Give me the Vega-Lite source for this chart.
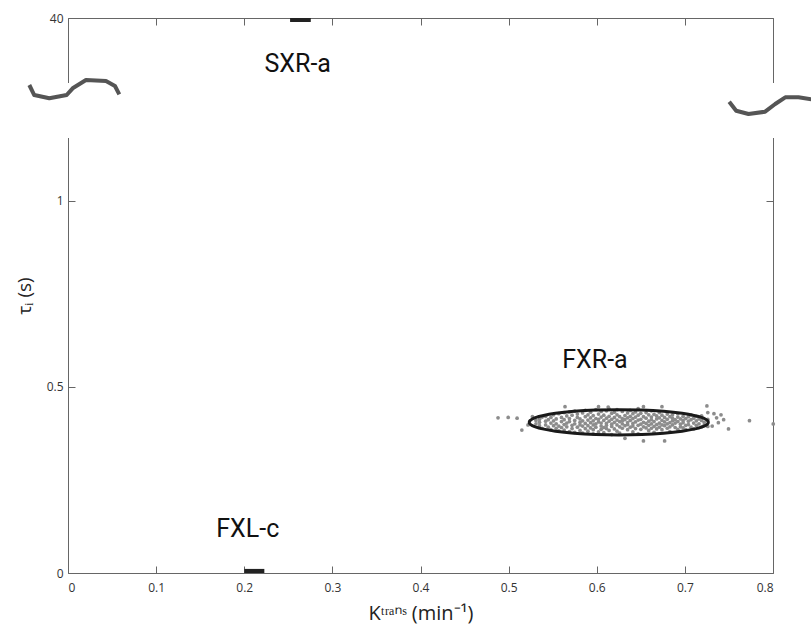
{
  "$schema": "https://vega.github.io/schema/vega-lite/v6.json",
  "width": 705,
  "height": 555,
  "autosize": {"type": "none"},
  "padding": {"left": 68, "top": 18, "right": 38, "bottom": 68},
  "background": "white",
  "config": {"view": {"stroke": null}, "font": "Open Sans"},
  "datasets": {
    "gap": [{"k": -0.06, "k2": 0.9, "t": 1.169, "t2": 18.97}],
    "sq": [
      {"g": "L", "o": 1, "k": -0.0439, "t": 18.32},
      {"g": "L", "o": 2, "k": -0.0383, "t": 15.08},
      {"g": "L", "o": 3, "k": -0.0212, "t": 14.02},
      {"g": "L", "o": 4, "k": -0.0015, "t": 15.08},
      {"g": "L", "o": 5, "k": 0.0053, "t": 17.25},
      {"g": "L", "o": 6, "k": 0.0204, "t": 19.94},
      {"g": "L", "o": 7, "k": 0.0431, "t": 19.61},
      {"g": "L", "o": 8, "k": 0.0533, "t": 18.0},
      {"g": "L", "o": 9, "k": 0.0582, "t": 15.31},
      {"g": "R", "o": 1, "k": 0.7503, "t": 12.92},
      {"g": "R", "o": 2, "k": 0.7582, "t": 10.0},
      {"g": "R", "o": 3, "k": 0.7722, "t": 8.94},
      {"g": "R", "o": 4, "k": 0.7911, "t": 9.68},
      {"g": "R", "o": 5, "k": 0.8025, "t": 12.17},
      {"g": "R", "o": 6, "k": 0.8139, "t": 14.34},
      {"g": "R", "o": 7, "k": 0.8289, "t": 14.34},
      {"g": "R", "o": 8, "k": 0.8434, "t": 13.69}
    ],
    "bars": [
      {"k": 0.252, "k2": 0.2755, "t": 40, "t2": 38.71},
      {"k": 0.2001, "k2": 0.2228, "t": 0, "t2": 0.011}
    ],
    "lbl": [
      {"k": 0.2607, "t": 25.21, "s": "SXR-a"},
      {"k": 0.598, "t": 0.572, "s": "FXR-a"},
      {"k": 0.204, "t": 0.118, "s": "FXL-c"}
    ],
    "ell": [
      {"o": 0, "k": 0.7266, "t": 0.405},
      {"o": 1, "k": 0.72573, "t": 0.40944},
      {"o": 2, "k": 0.72314, "t": 0.4138},
      {"o": 3, "k": 0.71887, "t": 0.41801},
      {"o": 4, "k": 0.71299, "t": 0.422},
      {"o": 5, "k": 0.69684, "t": 0.42904},
      {"o": 6, "k": 0.6758, "t": 0.43444},
      {"o": 7, "k": 0.65129, "t": 0.43784},
      {"o": 8, "k": 0.625, "t": 0.439},
      {"o": 9, "k": 0.59871, "t": 0.43784},
      {"o": 10, "k": 0.5742, "t": 0.43444},
      {"o": 11, "k": 0.55316, "t": 0.42904},
      {"o": 12, "k": 0.53701, "t": 0.422},
      {"o": 13, "k": 0.53113, "t": 0.41801},
      {"o": 14, "k": 0.52686, "t": 0.4138},
      {"o": 15, "k": 0.52427, "t": 0.40944},
      {"o": 16, "k": 0.5234, "t": 0.405},
      {"o": 17, "k": 0.52427, "t": 0.40056},
      {"o": 18, "k": 0.52686, "t": 0.3962},
      {"o": 19, "k": 0.53113, "t": 0.39199},
      {"o": 20, "k": 0.53701, "t": 0.388},
      {"o": 21, "k": 0.55316, "t": 0.38096},
      {"o": 22, "k": 0.5742, "t": 0.37556},
      {"o": 23, "k": 0.59871, "t": 0.37216},
      {"o": 24, "k": 0.625, "t": 0.371},
      {"o": 25, "k": 0.65129, "t": 0.37216},
      {"o": 26, "k": 0.6758, "t": 0.37556},
      {"o": 27, "k": 0.69684, "t": 0.38096},
      {"o": 28, "k": 0.71299, "t": 0.388},
      {"o": 29, "k": 0.71887, "t": 0.39199},
      {"o": 30, "k": 0.72314, "t": 0.3962},
      {"o": 31, "k": 0.72573, "t": 0.40056}
    ],
    "pts": [
      {"k":0.488,"t":0.417},{"k":0.4995,"t":0.418},{"k":0.5096,"t":0.416},{"k":0.515,"t":0.384},{"k":0.522,"t":0.398},{"k":0.527,"t":0.42},
      {"k":0.725,"t":0.449},{"k":0.733,"t":0.428},{"k":0.741,"t":0.425},{"k":0.7495,"t":0.387},{"k":0.7733,"t":0.4094},{"k":0.8003,"t":0.4005},
      {"k":0.738,"t":0.404},{"k":0.744,"t":0.412},{"k":0.731,"t":0.395},{"k":0.736,"t":0.417},{"k":0.564,"t":0.447},{"k":0.613,"t":0.446},
      {"k":0.531,"t":0.401},{"k":0.531,"t":0.41},
      {"k":0.535,"t":0.396},{"k":0.535,"t":0.413},{"k":0.535,"t":0.405},
      {"k":0.538,"t":0.389},{"k":0.538,"t":0.419},
      {"k":0.542,"t":0.408},{"k":0.542,"t":0.398},{"k":0.542,"t":0.421},
      {"k":0.545,"t":0.392},{"k":0.545,"t":0.412},
      {"k":0.548,"t":0.403},{"k":0.548,"t":0.385},{"k":0.548,"t":0.418},
      {"k":0.551,"t":0.425},{"k":0.551,"t":0.396},{"k":0.551,"t":0.409},
      {"k":0.554,"t":0.389},{"k":0.554,"t":0.414},{"k":0.554,"t":0.401},
      {"k":0.557,"t":0.428},{"k":0.557,"t":0.395},{"k":0.557,"t":0.382},
      {"k":0.56,"t":0.407},{"k":0.56,"t":0.418},{"k":0.56,"t":0.391},
      {"k":0.563,"t":0.399},{"k":0.563,"t":0.431},{"k":0.563,"t":0.384},{"k":0.563,"t":0.412},
      {"k":0.566,"t":0.422},{"k":0.566,"t":0.403},{"k":0.566,"t":0.393},
      {"k":0.569,"t":0.38},{"k":0.569,"t":0.415},{"k":0.569,"t":0.407},{"k":0.569,"t":0.433},
      {"k":0.572,"t":0.397},{"k":0.572,"t":0.424},{"k":0.572,"t":0.388},
      {"k":0.575,"t":0.41},{"k":0.575,"t":0.401},{"k":0.575,"t":0.435},{"k":0.575,"t":0.378},
      {"k":0.578,"t":0.418},{"k":0.578,"t":0.392},{"k":0.578,"t":0.427},
      {"k":0.581,"t":0.405},{"k":0.581,"t":0.383},{"k":0.581,"t":0.414},{"k":0.581,"t":0.398},
      {"k":0.584,"t":0.43},{"k":0.584,"t":0.395},{"k":0.584,"t":0.409},{"k":0.584,"t":0.376},
      {"k":0.587,"t":0.42},{"k":0.587,"t":0.402},{"k":0.587,"t":0.388},{"k":0.587,"t":0.437},
      {"k":0.59,"t":0.411},{"k":0.59,"t":0.396},{"k":0.59,"t":0.425},{"k":0.59,"t":0.381},
      {"k":0.593,"t":0.404},{"k":0.593,"t":0.432},{"k":0.593,"t":0.39},{"k":0.593,"t":0.417},
      {"k":0.596,"t":0.385},{"k":0.596,"t":0.409},{"k":0.596,"t":0.423},{"k":0.596,"t":0.398},{"k":0.596,"t":0.374},
      {"k":0.599,"t":0.415},{"k":0.599,"t":0.439},{"k":0.599,"t":0.401},{"k":0.599,"t":0.392},
      {"k":0.602,"t":0.427},{"k":0.602,"t":0.406},{"k":0.602,"t":0.379},{"k":0.602,"t":0.413},{"k":0.602,"t":0.447},
      {"k":0.605,"t":0.395},{"k":0.605,"t":0.419},{"k":0.605,"t":0.386},{"k":0.605,"t":0.434},{"k":0.605,"t":0.403},
      {"k":0.608,"t":0.41},{"k":0.608,"t":0.391},{"k":0.608,"t":0.424},{"k":0.608,"t":0.377},
      {"k":0.611,"t":0.402},{"k":0.611,"t":0.416},{"k":0.611,"t":0.436},{"k":0.611,"t":0.388},{"k":0.611,"t":0.397},
      {"k":0.614,"t":0.421},{"k":0.614,"t":0.383},{"k":0.614,"t":0.408},{"k":0.614,"t":0.441},
      {"k":0.617,"t":0.394},{"k":0.617,"t":0.413},{"k":0.617,"t":0.429},{"k":0.617,"t":0.4},{"k":0.617,"t":0.372},
      {"k":0.62,"t":0.418},{"k":0.62,"t":0.387},{"k":0.62,"t":0.405},{"k":0.62,"t":0.432},
      {"k":0.623,"t":0.398},{"k":0.623,"t":0.425},{"k":0.623,"t":0.411},{"k":0.623,"t":0.381},{"k":0.623,"t":0.439},
      {"k":0.626,"t":0.407},{"k":0.626,"t":0.393},{"k":0.626,"t":0.42},{"k":0.626,"t":0.376},
      {"k":0.629,"t":0.415},{"k":0.629,"t":0.401},{"k":0.629,"t":0.434},{"k":0.629,"t":0.389},{"k":0.629,"t":0.409},
      {"k":0.632,"t":0.396},{"k":0.632,"t":0.423},{"k":0.632,"t":0.362},{"k":0.632,"t":0.412},
      {"k":0.635,"t":0.43},{"k":0.635,"t":0.404},{"k":0.635,"t":0.385},{"k":0.635,"t":0.417},{"k":0.635,"t":0.399},
      {"k":0.638,"t":0.41},{"k":0.638,"t":0.392},{"k":0.638,"t":0.437},{"k":0.638,"t":0.421},
      {"k":0.641,"t":0.402},{"k":0.641,"t":0.379},{"k":0.641,"t":0.415},{"k":0.641,"t":0.428},{"k":0.641,"t":0.395},
      {"k":0.644,"t":0.419},{"k":0.644,"t":0.406},{"k":0.644,"t":0.388},{"k":0.644,"t":0.433},
      {"k":0.647,"t":0.397},{"k":0.647,"t":0.424},{"k":0.647,"t":0.411},{"k":0.647,"t":0.374},{"k":0.647,"t":0.442},
      {"k":0.65,"t":0.413},{"k":0.65,"t":0.4},{"k":0.65,"t":0.386},{"k":0.65,"t":0.429},
      {"k":0.653,"t":0.405},{"k":0.653,"t":0.42},{"k":0.653,"t":0.447},{"k":0.653,"t":0.355},{"k":0.653,"t":0.393},
      {"k":0.656,"t":0.416},{"k":0.656,"t":0.39},{"k":0.656,"t":0.431},{"k":0.656,"t":0.402},
      {"k":0.659,"t":0.408},{"k":0.659,"t":0.425},{"k":0.659,"t":0.383},{"k":0.659,"t":0.397},
      {"k":0.662,"t":0.419},{"k":0.662,"t":0.401},{"k":0.662,"t":0.436},{"k":0.662,"t":0.389},{"k":0.662,"t":0.412},
      {"k":0.665,"t":0.394},{"k":0.665,"t":0.426},{"k":0.665,"t":0.407},{"k":0.665,"t":0.378},
      {"k":0.668,"t":0.414},{"k":0.668,"t":0.399},{"k":0.668,"t":0.422},{"k":0.668,"t":0.387},
      {"k":0.671,"t":0.403},{"k":0.671,"t":0.431},{"k":0.671,"t":0.392},{"k":0.671,"t":0.417},
      {"k":0.674,"t":0.41},{"k":0.674,"t":0.385},{"k":0.674,"t":0.424},{"k":0.674,"t":0.447},{"k":0.674,"t":0.398},
      {"k":0.677,"t":0.396},{"k":0.677,"t":0.418},{"k":0.677,"t":0.406},{"k":0.677,"t":0.355},
      {"k":0.68,"t":0.413},{"k":0.68,"t":0.389},{"k":0.68,"t":0.427},{"k":0.68,"t":0.401},
      {"k":0.683,"t":0.404},{"k":0.683,"t":0.42},{"k":0.683,"t":0.393},{"k":0.683,"t":0.38},
      {"k":0.686,"t":0.416},{"k":0.686,"t":0.398},{"k":0.686,"t":0.425},{"k":0.686,"t":0.409},
      {"k":0.689,"t":0.391},{"k":0.689,"t":0.412},{"k":0.689,"t":0.403},
      {"k":0.692,"t":0.419},{"k":0.692,"t":0.386},{"k":0.692,"t":0.407},{"k":0.692,"t":0.428},
      {"k":0.695,"t":0.4},{"k":0.695,"t":0.414},{"k":0.695,"t":0.393},
      {"k":0.698,"t":0.41},{"k":0.698,"t":0.421},{"k":0.698,"t":0.39},{"k":0.698,"t":0.404},
      {"k":0.701,"t":0.397},{"k":0.701,"t":0.415},{"k":0.701,"t":0.385},
      {"k":0.704,"t":0.408},{"k":0.704,"t":0.42},{"k":0.704,"t":0.399},
      {"k":0.707,"t":0.392},{"k":0.707,"t":0.412},{"k":0.707,"t":0.425},
      {"k":0.71,"t":0.403},{"k":0.71,"t":0.416},{"k":0.71,"t":0.387},
      {"k":0.713,"t":0.409},{"k":0.713,"t":0.397},{"k":0.713,"t":0.421},
      {"k":0.716,"t":0.401},{"k":0.716,"t":0.414},
      {"k":0.719,"t":0.393},{"k":0.719,"t":0.41},{"k":0.719,"t":0.422},
      {"k":0.722,"t":0.405},{"k":0.722,"t":0.398},
      {"k":0.726,"t":0.413},{"k":0.726,"t":0.394},{"k":0.726,"t":0.431}
    ]
  },
  "layer": [
    {
      "data": {"name": "gap"},
      "mark": {"type": "rect", "color": "white"},
      "encoding": {
        "x": {"field": "k", "type": "quantitative",
              "scale": {"domain": [0, 0.8], "nice": false, "zero": false},
              "axis": {"orient": "top", "values": [0, 0.1, 0.2, 0.3, 0.4, 0.5, 0.6, 0.7, 0.8], "labels": false, "title": null,
                       "tickSize": -7, "domainColor": "#666", "tickColor": "#666", "grid": false}},
        "x2": {"field": "k2"},
        "y": {"field": "t", "type": "quantitative",
              "scale": {"domain": [0, 1.169, 40], "range": [555, 120, 0], "nice": false, "zero": false},
              "axis": {"orient": "right", "values": [0, 0.5, 1, 40], "labels": false, "title": null,
                       "tickSize": -7, "domainColor": "#666", "tickColor": "#666", "grid": false}},
        "y2": {"field": "t2"}
      }
    },
    {
      "data": {"name": "pts"},
      "mark": {"type": "circle", "size": 14, "color": "#8c8c8c", "opacity": 1},
      "encoding": {
        "x": {"field": "k", "type": "quantitative",
              "scale": {"domain": [0, 0.8], "nice": false, "zero": false},
              "axis": {"orient": "bottom", "values": [0, 0.1, 0.2, 0.3, 0.4, 0.5, 0.6, 0.7, 0.8], "format": "~r",
                       "tickSize": -7, "labelPadding": 16, "labelFontSize": 12, "labelColor": "#333333", "labelFont": "Open Sans",
                       "domainColor": "#666", "tickColor": "#666", "grid": false,
                       "title": "Kᵗʳᵃⁿˢ (min⁻¹)", "titleFontSize": 20, "titleFontWeight": "normal", "titleColor": "#222",
                       "titleFont": "Open Sans", "titlePadding": 10}},
        "y": {"field": "t", "type": "quantitative",
              "scale": {"domain": [0, 1.169, 40], "range": [555, 120, 0], "nice": false, "zero": false},
              "axis": {"orient": "left", "values": [0, 0.5, 1, 40], "format": "~r",
                       "tickSize": -7, "labelPadding": 12, "labelFontSize": 12, "labelColor": "#333333", "labelFont": "Open Sans",
                       "domainColor": "#666", "tickColor": "#666", "grid": false,
                       "title": "τᵢ (s)", "titleFontSize": 19, "titleFontWeight": "normal", "titleColor": "#222",
                       "titleFont": "Open Sans", "titlePadding": 12}}
      }
    },
    {
      "data": {"name": "ell"},
      "mark": {"type": "line", "interpolate": "cardinal-closed", "color": "#1a1a1a", "strokeWidth": 3},
      "encoding": {
        "x": {"field": "k", "type": "quantitative", "scale": {"domain": [0, 0.8], "nice": false, "zero": false}, "axis": null},
        "y": {"field": "t", "type": "quantitative", "scale": {"domain": [0, 1.169, 40], "range": [555, 120, 0], "nice": false, "zero": false}, "axis": null},
        "order": {"field": "o", "type": "quantitative"}
      }
    },
    {
      "data": {"name": "sq"},
      "mark": {"type": "line", "color": "#555555", "strokeWidth": 4, "strokeJoin": "round"},
      "encoding": {
        "x": {"field": "k", "type": "quantitative", "scale": {"domain": [0, 0.8], "nice": false, "zero": false}, "axis": null},
        "y": {"field": "t", "type": "quantitative", "scale": {"domain": [0, 1.169, 40], "range": [555, 120, 0], "nice": false, "zero": false}, "axis": null},
        "detail": {"field": "g", "type": "nominal"},
        "order": {"field": "o", "type": "quantitative"}
      }
    },
    {
      "data": {"name": "bars"},
      "mark": {"type": "rect", "color": "#222222"},
      "encoding": {
        "x": {"field": "k", "type": "quantitative", "scale": {"domain": [0, 0.8], "nice": false, "zero": false}, "axis": null},
        "x2": {"field": "k2"},
        "y": {"field": "t", "type": "quantitative", "scale": {"domain": [0, 1.169, 40], "range": [555, 120, 0], "nice": false, "zero": false}, "axis": null},
        "y2": {"field": "t2"}
      }
    },
    {
      "data": {"name": "lbl"},
      "mark": {"type": "text", "font": "Roboto", "fontSize": 25, "color": "#111", "align": "center", "baseline": "middle"},
      "encoding": {
        "x": {"field": "k", "type": "quantitative", "scale": {"domain": [0, 0.8], "nice": false, "zero": false}, "axis": null},
        "y": {"field": "t", "type": "quantitative", "scale": {"domain": [0, 1.169, 40], "range": [555, 120, 0], "nice": false, "zero": false}, "axis": null},
        "text": {"field": "s", "type": "nominal"}
      }
    }
  ],
  "resolve": {"axis": {"x": "independent", "y": "independent"}}
}
